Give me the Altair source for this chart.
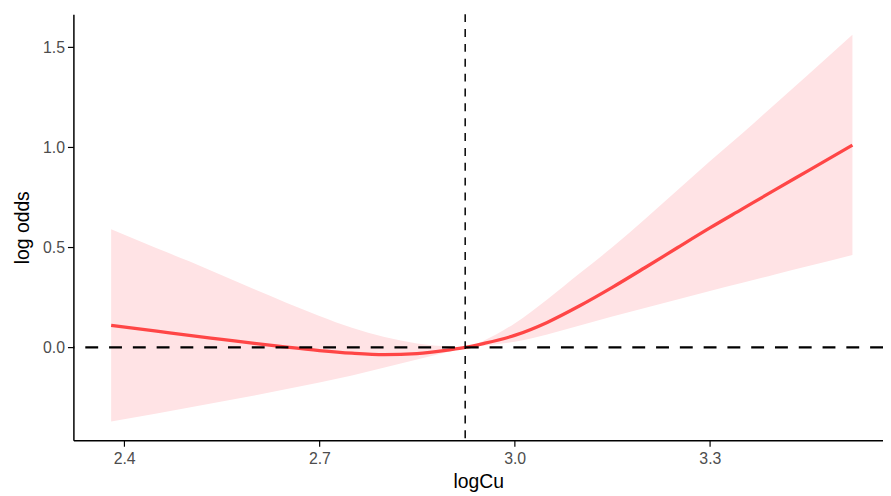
import altair as alt
import pandas as pd

# curve (log odds) values
x_vals = [2.38, 2.45, 2.50, 2.55, 2.60, 2.65, 2.70, 2.75, 2.80, 2.85, 2.90, 2.924,
          2.95, 3.00, 3.05, 3.10, 3.15, 3.20, 3.25, 3.30, 3.35, 3.40, 3.45, 3.519]
fit = [0.110, 0.081, 0.060, 0.040, 0.020, 0.001, -0.016, -0.029, -0.036, -0.031, -0.012, 0.000,
       0.018, 0.060, 0.125, 0.208, 0.300, 0.398, 0.498, 0.597, 0.692, 0.787, 0.881, 1.011]
upper = [0.590, 0.495, 0.430, 0.360, 0.290, 0.222, 0.157, 0.098, 0.052, 0.020, 0.004, 0.000,
         0.030, 0.120, 0.240, 0.370, 0.500, 0.640, 0.785, 0.930, 1.070, 1.215, 1.360, 1.562]
lower = [-0.370, -0.330, -0.300, -0.270, -0.240, -0.208, -0.175, -0.140, -0.100, -0.060, -0.020, 0.000,
         0.008, 0.028, 0.065, 0.110, 0.155, 0.197, 0.240, 0.282, 0.323, 0.364, 0.405, 0.462]

x_ticks = [2.4, 2.7, 3.0, 3.3]
y_ticks = [0.0, 0.5, 1.0, 1.5]
ref_x = [2.924]
ref_y = [0.0]

df = pd.DataFrame({"logCu": x_vals, "fit": fit, "upper": upper, "lower": lower})

FONT = "Liberation Sans"
xs = alt.Scale(domain=[2.322, 3.566], nice=False, zero=False)
ys = alt.Scale(domain=[-0.464, 1.665], nice=False, zero=False)

common = dict(grid=False, domainColor="black", domainWidth=1.5, tickColor="black",
              tickWidth=1.2, tickSize=6, labelColor="#4d4d4d", labelFontSize=16,
              labelFont=FONT, titleFont=FONT, titleFontSize=19.5,
              titleFontWeight="normal", titleColor="black")
xaxis = alt.Axis(values=x_ticks, format=".1f", title="logCu", labelPadding=4,
                 titlePadding=7, **common)
yaxis = alt.Axis(values=y_ticks, format=".1f", title="log odds", labelPadding=3,
                 titlePadding=10, **common)

band = alt.Chart(df).mark_area(color="#ffe3e5", opacity=1, interpolate="monotone").encode(
    x=alt.X("logCu:Q", scale=xs, axis=xaxis),
    y=alt.Y("lower:Q", scale=ys, axis=yaxis),
    y2="upper:Q",
)

hline = alt.Chart(pd.DataFrame({"y": ref_y})).mark_rule(
    color="black", strokeWidth=2.2, strokeDash=[13, 11]
).encode(y=alt.Y("y:Q", scale=ys))

vline = alt.Chart(pd.DataFrame({"x": ref_x})).mark_rule(
    color="black", strokeWidth=1.5, strokeDash=[8, 7]
).encode(x=alt.X("x:Q", scale=xs))

line = alt.Chart(df).mark_line(color="#ff4646", strokeWidth=3.3, interpolate="monotone").encode(
    x=alt.X("logCu:Q", scale=xs),
    y=alt.Y("fit:Q", scale=ys),
)

chart = alt.layer(band, line, hline, vline).properties(
    width=817, height=430,
    autosize=alt.AutoSizeParams(type="none"),
    padding={"left": 66, "top": 4, "right": 0, "bottom": 54},
).configure_view(stroke=None)

chart.save("out.html", embed_options={"renderer": "svg", "actions": False})
